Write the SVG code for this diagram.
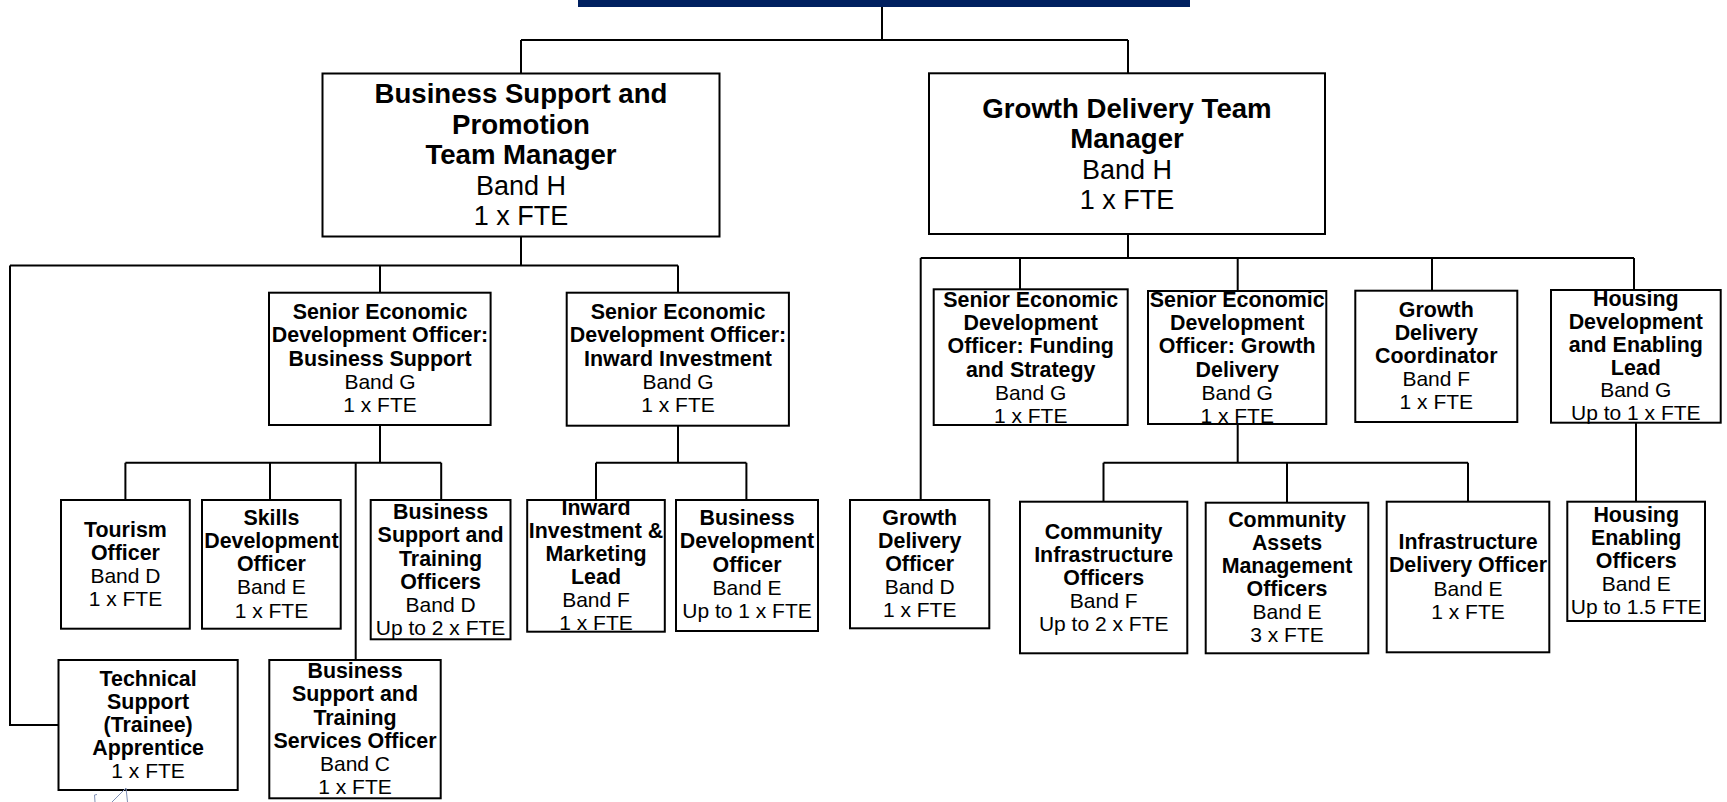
<svg xmlns="http://www.w3.org/2000/svg" width="1727" height="802" viewBox="0 0 1727 802">
<style>
.bg{fill:#fff}
.box{fill:#fff;stroke:#000;stroke-width:2}
.ln{fill:none;stroke:#000;stroke-width:2}
text{font-family:"Liberation Sans",Arial,sans-serif;fill:#000;text-anchor:middle}
.b{font-weight:bold}
.L{font-size:27px}
.L.b{font-size:27.6px}
.S{font-size:21px}
.S.b{font-size:21.4px}
.sq{fill:none;stroke:#7f8fb5;stroke-width:1}
</style>
<rect class="bg" x="0" y="0" width="1727" height="802"/>
<rect id="topbar" x="578" y="0" width="612" height="7" fill="#002060"/>
<g id="connectors">
<path class="ln" d="M882,7 V40 M521,40 H1128 M521,40 V73.5 M1128,40 V73.3"/>
<path class="ln" d="M521,236.5 V265.5 M10,265.5 H678 M380,265.5 V292.7 M678,265.5 V292.7 M10,265.5 V725 H58.5"/>
<path class="ln" d="M380,425 V462.7 M125.4,462.7 H441.2 M125.4,462.7 V500 M270,462.7 V500 M355.7,462.7 V660 M441.2,462.7 V500"/>
<path class="ln" d="M678,425.7 V462.7 M596,462.7 H746.4 M596,462.7 V500 M746.4,462.7 V500"/>
<path class="ln" d="M1128,234 V258 M920.7,258 H1634 M920.7,258 V500 M1020,258 V289.3 M1237.7,258 V291 M1432,258 V290.7 M1634,258 V290"/>
<path class="ln" d="M1237.7,424 V462.7 M1103.5,462.7 H1468 M1103.5,462.7 V501.7 M1287,462.7 V502.7 M1468,462.7 V501.7"/>
<path class="ln" d="M1636,422.7 V501.7"/>
</g>
<g id="bsp-manager">
<rect class="box" x="322.5" y="73.5" width="397" height="163"/>
<text class="L b" x="521" y="103">Business Support and</text>
<text class="L b" x="521" y="133.5">Promotion</text>
<text class="L b" x="521" y="164">Team Manager</text>
<text class="L" x="521" y="194.5">Band H</text>
<text class="L" x="521" y="225">1 x FTE</text>
</g>
<g id="gd-manager">
<rect class="box" x="929" y="73.3" width="396" height="160.7"/>
<text class="L b" x="1127" y="118">Growth Delivery Team</text>
<text class="L b" x="1127" y="148">Manager</text>
<text class="L" x="1127" y="178.5">Band H</text>
<text class="L" x="1127" y="208.5">1 x FTE</text>
</g>
<g id="sedo-bs">
<rect class="box" x="269" y="292.7" width="221.6" height="132.3"/>
<text class="S b" x="380" y="319">Senior Economic</text>
<text class="S b" x="380" y="342">Development Officer:</text>
<text class="S b" x="380" y="365.5">Business Support</text>
<text class="S" x="380" y="389">Band G</text>
<text class="S" x="380" y="412">1 x FTE</text>
</g>
<g id="sedo-ii">
<rect class="box" x="566.7" y="292.7" width="222.2" height="133"/>
<text class="S b" x="678" y="319">Senior Economic</text>
<text class="S b" x="678" y="342">Development Officer:</text>
<text class="S b" x="678" y="365.5">Inward Investment</text>
<text class="S" x="678" y="389">Band G</text>
<text class="S" x="678" y="412">1 x FTE</text>
</g>
<g id="sedo-fs">
<rect class="box" x="933.7" y="289.3" width="194" height="135.7"/>
<text class="S b" x="1030.7" y="306.5">Senior Economic</text>
<text class="S b" x="1030.7" y="330">Development</text>
<text class="S b" x="1030.7" y="353">Officer: Funding</text>
<text class="S b" x="1030.7" y="376.5">and Strategy</text>
<text class="S" x="1030.7" y="399.5">Band G</text>
<text class="S" x="1030.7" y="422.5">1 x FTE</text>
</g>
<g id="sedo-gd">
<rect class="box" x="1148" y="291" width="178.3" height="133"/>
<text class="S b" x="1237.2" y="306.5">Senior Economic</text>
<text class="S b" x="1237.2" y="330">Development</text>
<text class="S b" x="1237.2" y="353">Officer: Growth</text>
<text class="S b" x="1237.2" y="376.5">Delivery</text>
<text class="S" x="1237.2" y="399.5">Band G</text>
<text class="S" x="1237.2" y="422.5">1 x FTE</text>
</g>
<g id="gd-coordinator">
<rect class="box" x="1355.3" y="290.7" width="162" height="131.3"/>
<text class="S b" x="1436.3" y="317">Growth</text>
<text class="S b" x="1436.3" y="340">Delivery</text>
<text class="S b" x="1436.3" y="363">Coordinator</text>
<text class="S" x="1436.3" y="386">Band F</text>
<text class="S" x="1436.3" y="408.5">1 x FTE</text>
</g>
<g id="housing-lead">
<rect class="box" x="1551" y="290" width="169.7" height="132.7"/>
<text class="S b" x="1635.8" y="306">Housing</text>
<text class="S b" x="1635.8" y="329">Development</text>
<text class="S b" x="1635.8" y="351.5">and Enabling</text>
<text class="S b" x="1635.8" y="374.5">Lead</text>
<text class="S" x="1635.8" y="397">Band G</text>
<text class="S" x="1635.8" y="420">Up to 1 x FTE</text>
</g>
<g id="tourism">
<rect class="box" x="61" y="500" width="128.8" height="128.7"/>
<text class="S b" x="125.4" y="537">Tourism</text>
<text class="S b" x="125.4" y="560">Officer</text>
<text class="S" x="125.4" y="583">Band D</text>
<text class="S" x="125.4" y="606">1 x FTE</text>
</g>
<g id="skills">
<rect class="box" x="202" y="500" width="138.7" height="128.7"/>
<text class="S b" x="271.4" y="525">Skills</text>
<text class="S b" x="271.4" y="548">Development</text>
<text class="S b" x="271.4" y="571">Officer</text>
<text class="S" x="271.4" y="594">Band E</text>
<text class="S" x="271.4" y="617.5">1 x FTE</text>
</g>
<g id="bsto">
<rect class="box" x="370.7" y="500" width="139.8" height="139.3"/>
<text class="S b" x="440.6" y="519">Business</text>
<text class="S b" x="440.6" y="542">Support and</text>
<text class="S b" x="440.6" y="565.5">Training</text>
<text class="S b" x="440.6" y="588.5">Officers</text>
<text class="S" x="440.6" y="611.5">Band D</text>
<text class="S" x="440.6" y="634.5">Up to 2 x FTE</text>
</g>
<g id="iiml">
<rect class="box" x="527.2" y="500" width="137.6" height="131.7"/>
<text class="S b" x="596" y="514.5">Inward</text>
<text class="S b" x="596" y="537.5">Investment &amp;</text>
<text class="S b" x="596" y="561">Marketing</text>
<text class="S b" x="596" y="584">Lead</text>
<text class="S" x="596" y="607">Band F</text>
<text class="S" x="596" y="630">1 x FTE</text>
</g>
<g id="bdo">
<rect class="box" x="676" y="500" width="142" height="131"/>
<text class="S b" x="747" y="525">Business</text>
<text class="S b" x="747" y="548">Development</text>
<text class="S b" x="747" y="571.5">Officer</text>
<text class="S" x="747" y="595">Band E</text>
<text class="S" x="747" y="618">Up to 1 x FTE</text>
</g>
<g id="tech-apprentice">
<rect class="box" x="58.5" y="660" width="179.2" height="130"/>
<text class="S b" x="148.1" y="685.5">Technical</text>
<text class="S b" x="148.1" y="708.5">Support</text>
<text class="S b" x="148.1" y="731.5">(Trainee)</text>
<text class="S b" x="148.1" y="754.5">Apprentice</text>
<text class="S" x="148.1" y="777.5">1 x FTE</text>
</g>
<g id="bstso">
<rect class="box" x="269.3" y="660" width="171.4" height="138.3"/>
<text class="S b" x="355" y="678">Business</text>
<text class="S b" x="355" y="701">Support and</text>
<text class="S b" x="355" y="724.5">Training</text>
<text class="S b" x="355" y="747.5">Services Officer</text>
<text class="S" x="355" y="770.5">Band C</text>
<text class="S" x="355" y="793.5">1 x FTE</text>
</g>
<g id="gdo">
<rect class="box" x="850" y="500" width="139.3" height="128.3"/>
<text class="S b" x="919.7" y="524.5">Growth</text>
<text class="S b" x="919.7" y="547.5">Delivery</text>
<text class="S b" x="919.7" y="570.5">Officer</text>
<text class="S" x="919.7" y="593.5">Band D</text>
<text class="S" x="919.7" y="616.5">1 x FTE</text>
</g>
<g id="cio">
<rect class="box" x="1020" y="501.7" width="167.3" height="151.6"/>
<text class="S b" x="1103.7" y="538.5">Community</text>
<text class="S b" x="1103.7" y="561.5">Infrastructure</text>
<text class="S b" x="1103.7" y="584.5">Officers</text>
<text class="S" x="1103.7" y="607.5">Band F</text>
<text class="S" x="1103.7" y="630.5">Up to 2 x FTE</text>
</g>
<g id="camo">
<rect class="box" x="1205.7" y="502.7" width="162.6" height="150.6"/>
<text class="S b" x="1287" y="526.5">Community</text>
<text class="S b" x="1287" y="549.5">Assets</text>
<text class="S b" x="1287" y="572.5">Management</text>
<text class="S b" x="1287" y="595.5">Officers</text>
<text class="S" x="1287" y="618.5">Band E</text>
<text class="S" x="1287" y="641.5">3 x FTE</text>
</g>
<g id="ido">
<rect class="box" x="1386.7" y="501.7" width="162.6" height="150.6"/>
<text class="S b" x="1468" y="549">Infrastructure</text>
<text class="S b" x="1468" y="572">Delivery Officer</text>
<text class="S" x="1468" y="595.5">Band E</text>
<text class="S" x="1468" y="618.5">1 x FTE</text>
</g>
<g id="heo">
<rect class="box" x="1567.3" y="501.7" width="137.7" height="119.3"/>
<text class="S b" x="1636.2" y="522">Housing</text>
<text class="S b" x="1636.2" y="545">Enabling</text>
<text class="S b" x="1636.2" y="568">Officers</text>
<text class="S" x="1636.2" y="591">Band E</text>
<text class="S" x="1636.2" y="614">Up to 1.5 FTE</text>
</g>
<g id="marks">
<path class="sq" d="M95,802 L94.5,795 L97,794.5 M112,802 L126,788 L127.5,802"/>
</g>
</svg>
